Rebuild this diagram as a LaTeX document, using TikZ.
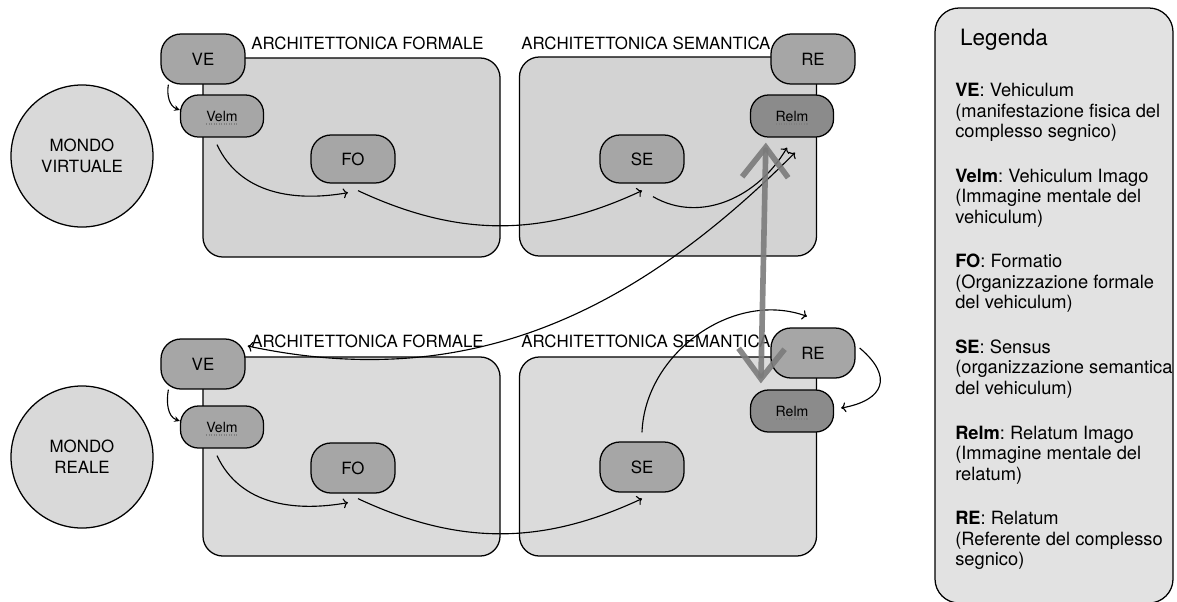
\documentclass[tikz,border=0pt]{standalone}
\usepackage{fontspec}
\setmainfont{TeX Gyre Heros}
\usetikzlibrary{arrows.meta,positioning}

\definecolor{boxtop}{HTML}{D3D3D3}
\definecolor{boxbottom}{HTML}{DBDBDB}
\definecolor{pillgray}{HTML}{A6A6A6}
\definecolor{pilldark}{HTML}{8B8B8B}
\definecolor{worldgray}{HTML}{D9D9D9}
\definecolor{legendgray}{HTML}{E2E2E2}
\definecolor{handgray}{HTML}{7B7B7B}

\begin{document}
\begin{tikzpicture}[x=0.025cm, y=-0.025cm,
	archbox/.style={draw, line width=0.9pt, rounded corners=0.5cm, minimum width=7.425cm, minimum height=4.975cm},
	pill/.style={draw, line width=0.9pt, fill=pillgray, rounded corners=0.5cm, minimum width=2.1cm, minimum height=1.25cm, font=\fontsize{12}{14}\selectfont},
	pillsmall/.style={pill, rounded corners=0.45cm, minimum width=2.075cm, minimum height=1.05cm, font=\fontsize{10}{12}\selectfont},
	world/.style={draw, line width=0.9pt, circle, fill=worldgray, minimum size=3.55cm, align=center, font=\fontsize{12}{15}\selectfont},
	archlabel/.style={anchor=west, inner sep=0pt, font=\fontsize{12}{14}\selectfont},
	flow/.style={->, line width=0.8pt},
	flowshort/.style={-stealth, line width=0.8pt},
	squiggle/.style={gray, densely dotted, line width=0.8pt},
	handarrow/.style={{Straight Barb[length=0.75cm,width=1.15cm]}-{Straight Barb[length=0.75cm,width=1.15cm]}, line width=4pt, draw=handgray, line cap=round, opacity=0.9}]

	\useasboundingbox (0,0) rectangle (1177,601);

	% mondo virtuale
	\node (F1)[archbox, fill=boxtop] at (351.5,157.5){};
	\node (S1)[archbox, fill=boxtop] at (668,156.5){};
	\node (MV)[world] at (82,156){MONDO\\VIRTUALE};
	\node (AF1)[archlabel] at (251,43){ARCHITETTONICA FORMALE};
	\node (AS1)[archlabel] at (521,43){ARCHITETTONICA SEMANTICA};
	\node (VE1)[pill] at (203,59){VE};
	\node (VI1)[pillsmall] at (222,116){Velm};
	\node (FO1)[pill, minimum height=1.2cm] at (353,159){FO};
	\node (SE1)[pill, minimum height=1.2cm] at (642,159){SE};
	\node (RE1)[pill] at (813,59){RE};
	\node (RI1)[pillsmall, fill=pilldark] at (792,116){Relm};

	% mondo reale
	\node (F2)[archbox, fill=boxbottom] at (351.5,456.5){};
	\node (S2)[archbox, fill=boxbottom] at (668,456.5){};
	\node (MR)[world] at (82,457){MONDO\\REALE};
	\node (AF2)[archlabel] at (251,341){ARCHITETTONICA FORMALE};
	\node (AS2)[archlabel] at (521,341){ARCHITETTONICA SEMANTICA};
	\node (VE2)[pill] at (203,364){VE};
	\node (VI2)[pillsmall] at (222,427){Velm};
	\node (FO2)[pill] at (353,468){FO};
	\node (SE2)[pill] at (642,467){SE};
	\node (RE2)[pill] at (813,353){RE};
	\node (RI2)[pillsmall, fill=pilldark] at (792,411){Relm};

	\draw [squiggle] ([xshift=-0.4cm,yshift=-0.2cm]VI1.center) -- ++(0.8cm,0);
	\draw [squiggle] ([xshift=-0.4cm,yshift=-0.2cm]VI2.center) -- ++(0.8cm,0);
	\draw [squiggle] ([xshift=-0.4cm,yshift=-0.2cm]RI1.center) -- ++(0.8cm,0);
	\draw [squiggle] ([xshift=-0.4cm,yshift=-0.2cm]RI2.center) -- ++(0.8cm,0);

	\draw [flowshort] ([xshift=0.2cm]VE1.south west) to[out=-100,in=160] ([yshift=0.15cm]VI1.west);
	\draw [flow] ([xshift=-0.125cm,yshift=-0.175cm]VI1.south) to[out=-65,in=-170] ([xshift=-0.125cm,yshift=-0.225cm]FO1.south);
	\draw [flow] ([xshift=0.125cm,yshift=-0.175cm]FO1.south) to[out=-25,in=-155] ([yshift=-0.175cm]SE1.south);
	\draw [flow] ([xshift=0.275cm,yshift=-0.325cm]SE1.south) to[out=-30,in=-120] ([xshift=-0.125cm,yshift=-0.25cm]RI1.south);

	\draw [flowshort] ([xshift=0.2cm]VE2.south west) to[out=-100,in=160] ([yshift=0.15cm]VI2.west);
	\draw [flow] ([xshift=-0.125cm,yshift=-0.175cm]VI2.south) to[out=-65,in=-170] ([xshift=-0.125cm,yshift=-0.225cm]FO2.south);
	\draw [flow] ([xshift=0.125cm,yshift=-0.125cm]FO2.south) to[out=-25,in=-155] ([yshift=-0.15cm]SE2.south);
	\draw [flow] ([yshift=0.225cm]SE2.north) to[out=88,in=160] ([xshift=-0.15cm,yshift=0.275cm]RE2.north);
	\draw [flow] ([xshift=0.1cm,yshift=0.125cm]RE2.east) to[out=-40,in=10,looseness=1.8] ([xshift=0.175cm,yshift=0.075cm]RI2.east);

	\draw [flow, <->] ([xshift=0.05cm,yshift=0.45cm]VE2.east) to[out=-12,in=-135] ([xshift=0.075cm,yshift=-0.375cm]RI1.south);

	\draw [handarrow] ([xshift=0.4cm,yshift=-0.125cm]RI1.south west) -- ([xshift=0.275cm,yshift=0.15cm]RI2.north west);

	% legenda
	\begin{scope}
	\clip (0,0) rectangle (1177,601);
	\draw [line width=0.9pt, fill=legendgray, rounded corners=0.6cm] (935,8) rectangle (1173,603);
	\node (LG) at (1004,40){\fontsize{16}{19}\selectfont Legenda};
	\node (LT)[anchor=north west, align=left, inner sep=0pt, font=\fontsize{13}{14.6}\selectfont\frenchspacing] at (955,83){
		\textbf{VE}: Vehiculum\\(manifestazione fisica del\\complesso segnico)\\[0.6cm]
		\textbf{Velm}: Vehiculum Imago\\(Immagine mentale del\\vehiculum)\\[0.6cm]
		\textbf{FO}: Formatio\\(Organizzazione formale\\del vehiculum)\\[0.6cm]
		\textbf{SE}: Sensus\\(organizzazione semantica\\del vehiculum)\\[0.6cm]
		\textbf{Relm}: Relatum Imago\\(Immagine mentale del\\relatum)\\[0.6cm]
		\textbf{RE}: Relatum\\(Referente del complesso\\segnico)};
	\end{scope}
\end{tikzpicture}
\end{document}
